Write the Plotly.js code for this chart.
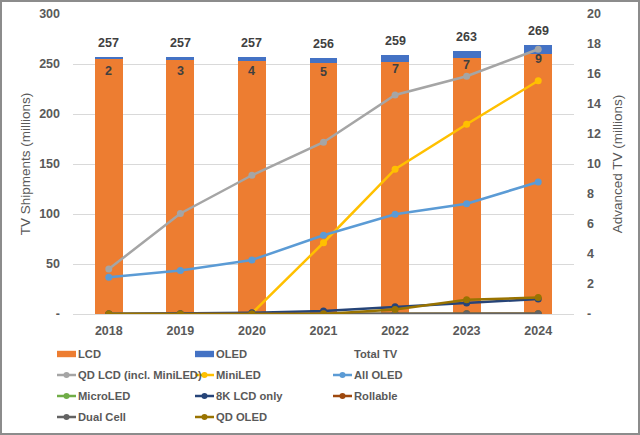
<!DOCTYPE html>
<html>
<head>
<meta charset="utf-8">
<script src="https://cdn.plot.ly/plotly-3.0.1.min.js"></script>
<style>
  html, body { margin: 0; padding: 0; background: #ffffff; }
  #wrap { position: relative; width: 640px; height: 435px; }
  #chart { width: 640px; height: 435px; }
  #frame { position: absolute; left: 0; top: 0; width: 640px; height: 435px; box-sizing: border-box; border: 2px solid #8c8c8c; pointer-events: none; }
</style>
</head>
<body>
<div id="wrap"><div id="chart"></div><div id="frame"></div></div>
<script>
// ---- data ----
var years = ['2018', '2019', '2020', '2021', '2022', '2023', '2024'];
var lcd = [255, 254, 253, 251, 252, 256, 260];
var oled = [2, 3, 4, 5, 7, 7, 9];
var totalTV = [257, 257, 257, 256, 259, 263, 269];
var qdLcd = [3.0, 6.7, 9.25, 11.45, 14.6, 15.85, 17.65];
var miniLed = [0, 0, 0.05, 4.75, 9.65, 12.65, 15.55];
var allOled = [2.45, 2.9, 3.6, 5.25, 6.65, 7.35, 8.8];
var microLed = [0, 0, 0, 0, 0.01, 0.01, 0.02];
var k8Lcd = [0, 0.02, 0.08, 0.2, 0.48, 0.73, 1.0];
var rollable = [0, 0, 0, 0.01, 0.01, 0.01, 0.01];
var dualCell = [0, 0, 0, 0.01, 0.02, 0.02, 0.02];
var qdOled = [0, 0, 0, 0, 0.3, 0.95, 1.1];
var leftTicks = [0, 50, 100, 150, 200, 250, 300];
var leftTickText = ['-', '50', '100', '150', '200', '250', '300'];
var rightTicks = [0, 2, 4, 6, 8, 10, 12, 14, 16, 18, 20];
var rightTickText = ['-', '2', '4', '6', '8', '10', '12', '14', '16', '18', '20'];

var FONT = '"Liberation Sans", Arial, sans-serif';
var GRAY = '#595959';
var DARK = '#404040';
var W = 640, H = 435, ML = 73, MR = 66, MT = 14, MB = 121;
var PW = W - ML - MR, PH = H - MT - MB;

var colors = {
  lcd: '#ed7d31', oled: '#4472c4', qdLcd: '#a5a5a5', miniLed: '#ffc000', allOled: '#5b9bd5',
  microLed: '#70ad47', k8: '#264478', rollable: '#9e480e', dual: '#636363', qdOled: '#997300'
};

function lineTrace(name, y, color) {
  return {
    type: 'scatter', mode: 'lines+markers', name: name, x: years, y: y,
    yaxis: 'y2', showlegend: false,
    line: { color: color, width: 2.5 },
    marker: { color: color, size: 7, symbol: 'circle' },
    hoverinfo: 'x+y'
  };
}

var data = [
  { type: 'bar', name: 'LCD', x: years, y: lcd, marker: { color: colors.lcd }, showlegend: false },
  { type: 'bar', name: 'OLED', x: years, y: oled, marker: { color: colors.oled }, showlegend: false },
  lineTrace('QD LCD (incl. MiniLED)', qdLcd, colors.qdLcd),
  lineTrace('MiniLED', miniLed, colors.miniLed),
  lineTrace('All OLED', allOled, colors.allOled),
  lineTrace('MicroLED', microLed, colors.microLed),
  lineTrace('8K LCD only', k8Lcd, colors.k8),
  lineTrace('Rollable', rollable, colors.rollable),
  lineTrace('Dual Cell', dualCell, colors.dual),
  lineTrace('QD OLED', qdOled, colors.qdOled)
];

var labelFont = { family: FONT, size: 12.5, color: DARK, weight: 'bold' };
var annotations = [];
var shapes = [];
for (var i = 0; i < years.length; i++) {
  annotations.push({ x: i, y: totalTV[i], xref: 'x', yref: 'y', text: String(totalTV[i]),
    showarrow: false, yshift: 14, font: labelFont });
  annotations.push({ x: i, y: totalTV[i], xref: 'x', yref: 'y', text: String(oled[i]),
    showarrow: false, yshift: -14, font: labelFont });
}

// ---- manual legend (pixel positions converted to paper coordinates) ----
function px(x) { return (x - ML) / PW; }
function py(y) { return (MT + PH - y) / PH; }
var legendItems = [
  { name: 'LCD', kind: 'bar', color: colors.lcd, col: 0, row: 0 },
  { name: 'OLED', kind: 'bar', color: colors.oled, col: 1, row: 0 },
  { name: 'Total TV', kind: 'none', color: null, col: 2, row: 0 },
  { name: 'QD LCD (incl. MiniLED)', kind: 'line', color: colors.qdLcd, col: 0, row: 1 },
  { name: 'MiniLED', kind: 'line', color: colors.miniLed, col: 1, row: 1 },
  { name: 'All OLED', kind: 'line', color: colors.allOled, col: 2, row: 1 },
  { name: 'MicroLED', kind: 'line', color: colors.microLed, col: 0, row: 2 },
  { name: '8K LCD only', kind: 'line', color: colors.k8, col: 1, row: 2 },
  { name: 'Rollable', kind: 'line', color: colors.rollable, col: 2, row: 2 },
  { name: 'Dual Cell', kind: 'line', color: colors.dual, col: 0, row: 3 },
  { name: 'QD OLED', kind: 'line', color: colors.qdOled, col: 1, row: 3 }
];
var colX = [57, 195, 333];
var rowY = [354, 375, 396, 417];
legendItems.forEach(function (it) {
  var x0 = colX[it.col], x1 = x0 + 19, yc = rowY[it.row];
  if (it.kind === 'bar') {
    shapes.push({ type: 'rect', xref: 'paper', yref: 'paper', x0: px(x0), x1: px(x1),
      y0: py(yc + 3.2), y1: py(yc - 3.2), fillcolor: it.color, line: { width: 0 } });
  } else if (it.kind === 'line') {
    shapes.push({ type: 'line', xref: 'paper', yref: 'paper', x0: px(x0), x1: px(x1),
      y0: py(yc), y1: py(yc), line: { color: it.color, width: 2.5 } });
    shapes.push({ type: 'circle', xref: 'paper', yref: 'paper', xsizemode: 'pixel', ysizemode: 'pixel',
      xanchor: px((x0 + x1) / 2), yanchor: py(yc), x0: -3, x1: 3, y0: -3, y1: 3,
      fillcolor: it.color, line: { width: 0 } });
  }
  annotations.push({ xref: 'paper', yref: 'paper', x: px(x1 + 0.5), y: py(yc), xanchor: 'left', yanchor: 'middle',
    text: it.name, showarrow: false, borderpad: 0,
    font: { family: FONT, size: 11.2, color: GRAY, weight: 'bold' } });
});

var tickFont = { family: FONT, size: 12.5, color: GRAY, weight: 'bold' };

var layout = {
  width: W, height: H,
  margin: { l: ML, r: MR, t: MT, b: MB, pad: 0 },
  paper_bgcolor: '#ffffff', plot_bgcolor: '#ffffff',
  font: { family: FONT, color: GRAY },
  barmode: 'stack', bargap: 0.61,
  showlegend: false,
  xaxis: {
    type: 'category', tickfont: tickFont, showgrid: false, zeroline: false,
    showline: true, linecolor: '#d9d9d9', linewidth: 1, ticks: '', ticklabelstandoff: 5,
    fixedrange: true
  },
  yaxis: {
    range: [0, 300], tickvals: leftTicks, ticktext: leftTickText, tickfont: tickFont,
    showgrid: true, gridcolor: '#d9d9d9', gridwidth: 1, zeroline: false, ticks: '',
    ticklabelstandoff: 12,
    title: { text: 'TV Shipments (millions)', font: { family: FONT, size: 13.5, color: GRAY }, standoff: 5 },
    fixedrange: true
  },
  yaxis2: {
    overlaying: 'y', side: 'right', range: [0, 20], tickvals: rightTicks, ticktext: rightTickText,
    tickfont: tickFont, showgrid: false, zeroline: false, ticks: '', ticklabelstandoff: 12,
    title: { text: 'Advanced TV (millions)', font: { family: FONT, size: 13.5, color: GRAY }, standoff: 12 },
    fixedrange: true
  },
  annotations: annotations,
  shapes: shapes
};

Plotly.newPlot('chart', data, layout, { displayModeBar: false, staticPlot: true });
</script>
</body>
</html>
